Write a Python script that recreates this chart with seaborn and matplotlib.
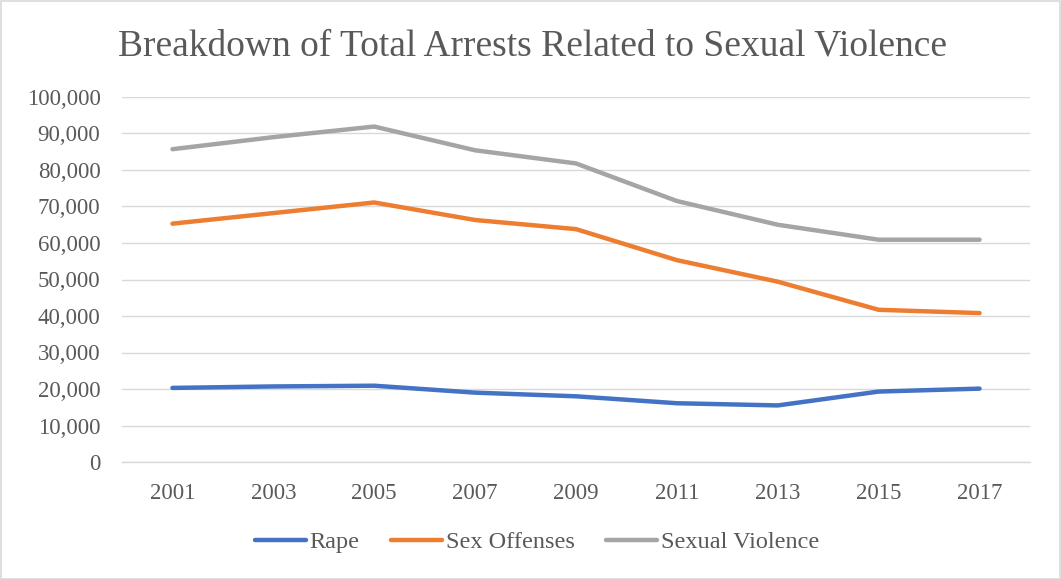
import matplotlib
matplotlib.use("Agg")
import matplotlib.pyplot as plt
import seaborn as sns
import pandas as pd
from matplotlib.patches import Rectangle
from matplotlib.lines import Line2D
from matplotlib.ticker import FuncFormatter

years = ["2001", "2003", "2005", "2007", "2009", "2011", "2013", "2015", "2017"]
rape = [20300, 20700, 20900, 19000, 18000, 16100, 15500, 19300, 20100]
sex_offenses = [65300, 68200, 71100, 66300, 63800, 55300, 49400, 41700, 40800]
sexual_violence = [85700, 89000, 91900, 85400, 81800, 71500, 65000, 60900, 60900]
series_names = ["Rape", "Sex Offenses", "Sexual Violence"]
colors = ["#4472C4", "#ED7D31", "#A5A5A5"]
title = "Breakdown of Total Arrests Related to Sexual Violence"

rows = []
for name, vals in zip(series_names, [rape, sex_offenses, sexual_violence]):
    for i, (y, v) in enumerate(zip(years, vals)):
        rows.append({"pos": i, "year": y, "value": v, "series": name})
df = pd.DataFrame(rows)

sns.set_theme(style="white")
plt.rcParams["font.family"] = ["Liberation Serif", "DejaVu Serif"]
text_color = "#595959"
lw = 3.2

fig = plt.figure(figsize=(10.61, 5.79), dpi=100)
ax = fig.add_axes([122 / 1061, 1 - 462 / 579, (1030 - 122) / 1061, (462 - 97) / 579])

sns.lineplot(data=df, x="pos", y="value", hue="series", palette=colors,
             hue_order=series_names, linewidth=lw, ax=ax, legend=False,
             solid_capstyle="round", solid_joinstyle="round")

ax.set_xlim(-0.5, len(years) - 0.5)
ax.set_ylim(0, 100000)
ax.set_yticks(range(0, 100001, 10000))
ax.yaxis.set_major_formatter(FuncFormatter(lambda v, p: f"{int(v):,}"))
ax.set_xticks(range(len(years)))
ax.set_xticklabels(years)
ax.grid(axis="y", color="#D9D9D9", linewidth=1.0)
ax.set_axisbelow(True)
for s in ["top", "right", "left"]:
    ax.spines[s].set_visible(False)
ax.spines["bottom"].set_color("#D9D9D9")
ax.spines["bottom"].set_linewidth(1.0)
ax.tick_params(axis="both", length=0, colors=text_color, labelsize=16.5)
ax.tick_params(axis="y", pad=15.5)
ax.tick_params(axis="x", pad=15)
ax.set_xlabel("")
ax.set_ylabel("")

fig.text(533 / 1061, 1 - 46 / 579, title, ha="center", va="center",
         fontsize=27, color=text_color)

handles = [Line2D([0], [0], color=c, linewidth=lw, solid_capstyle="round") for c in colors]
fig.legend(handles, series_names, loc="center", bbox_to_anchor=(537 / 1061, 1 - 542 / 579),
           ncol=3, frameon=False, fontsize=17.5, labelcolor=text_color,
           handlelength=2.1, handletextpad=0.15, columnspacing=1.3)

fig.patches.append(Rectangle((0.5 / 1061, 0.5 / 579), 1 - 1.5 / 1061, 1 - 1.5 / 579,
                             transform=fig.transFigure, fill=False,
                             edgecolor="#D9D9D9", linewidth=1.2))

fig.savefig("out.png", dpi=100, facecolor="white")
